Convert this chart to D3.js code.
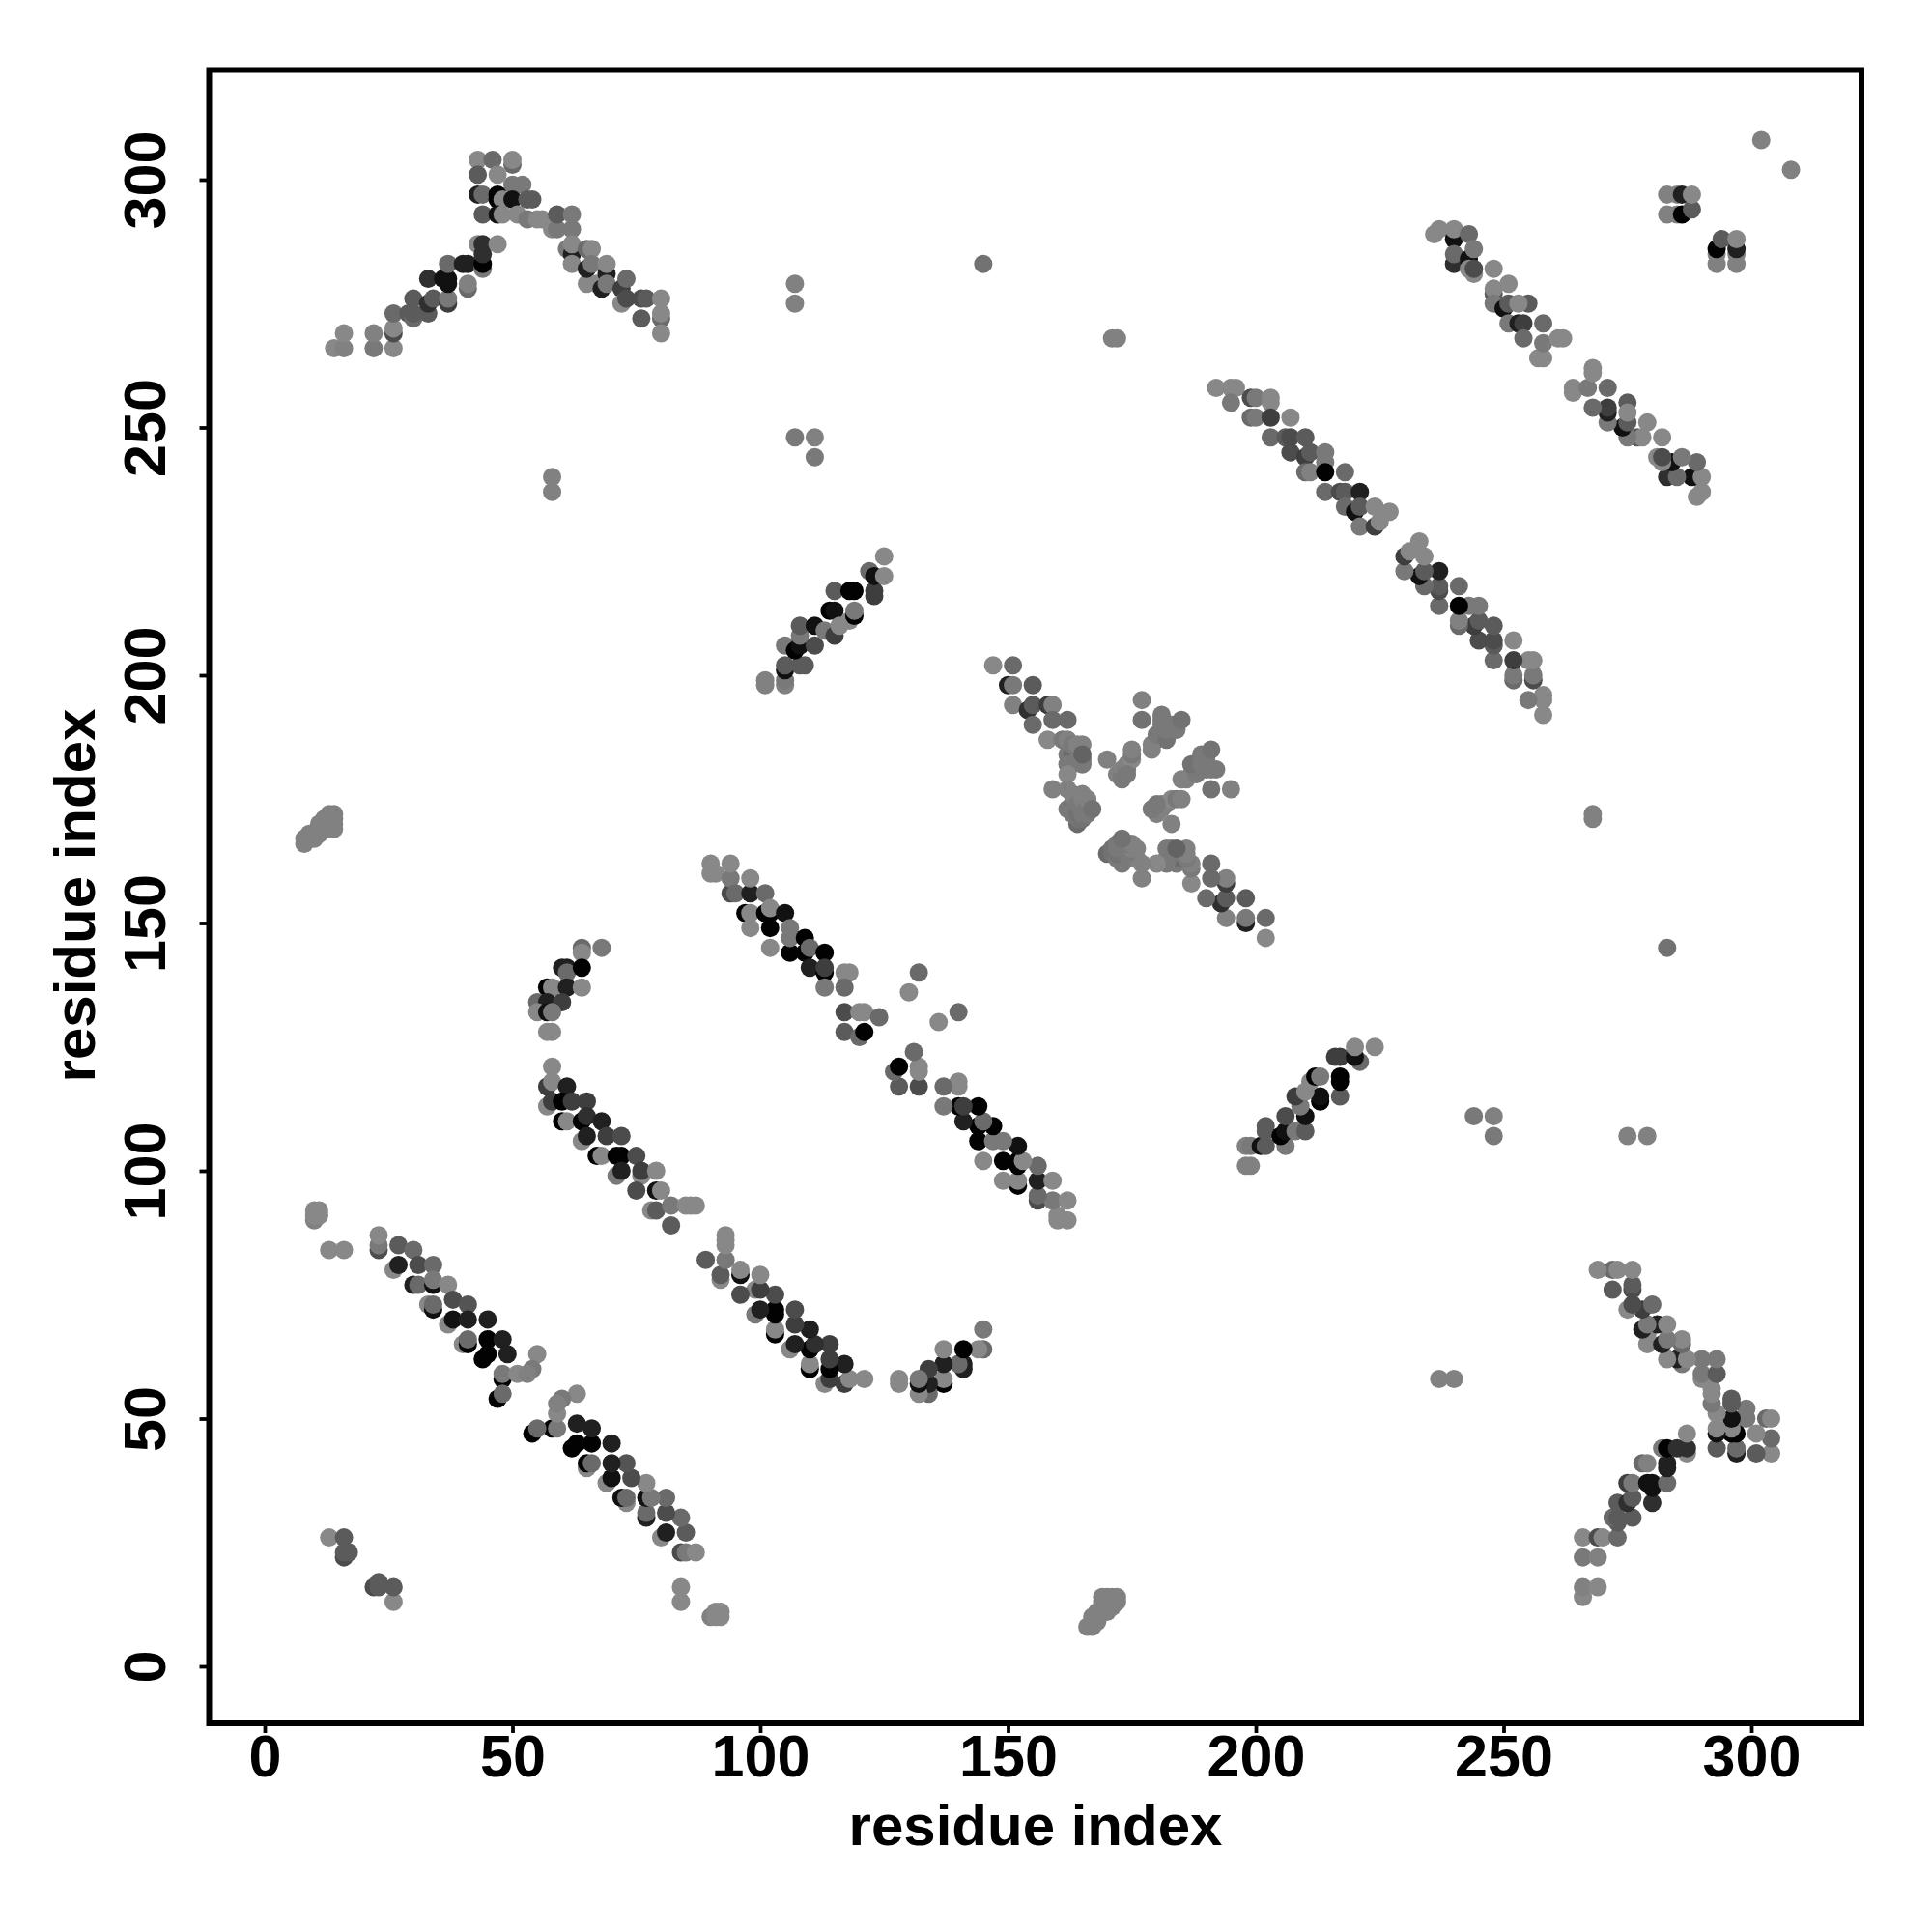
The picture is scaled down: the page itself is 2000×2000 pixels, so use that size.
<!DOCTYPE html>
<html><head><meta charset="utf-8">
<script src="https://cdn.jsdelivr.net/npm/d3@7"></script>
<style>html,body{margin:0;padding:0;background:#fff}svg{display:block}</style>
</head><body><div id="chart"></div>
<script>
// Contact map: [residue i, residue j, contact strength 0-9]; i<j, the matrix is symmetric.
const tickValues = [0, 50, 100, 150, 200, 250, 300];
const axisTitle = "residue index";

const helixA = [[23,84,4],[23,85,1],[23,87,0],[26,80,0],[27,81,7],[27,85,3],[30,84,2],[30,77,7],[31,81,4],[34,81,2],[31,77,2],[34,77,8],[34,78,1],[37,77,0],[33,73,0],[34,72,8],[34,73,2],[38,74,4],[41,73,3.5],[37,69,0],[38,70,8],[41,70,7],[45,70,7],[40,65,0],[41,65,9],[41,66,2],[45,66,9],[48,66,7],[44,62,9],[45,63,9],[49,63,7],[48,58,9],[48,59,1],[55,63,0],[54,60,1],[51,59,0],[53,59,0.5],[47,54,9],[48,55,2]];

const smallPatches = [[13,26,0],[16,26,3],[16,22,4],[16,23,3],[17,23,3],[13,84,0],[16,84,0],[10,90,0.5],[10,91,0],[10,92,0],[11,92,0],[11,91,0],[8,166,0.5],[8,167,0.5],[9,167,0.5],[9,168,0.5],[10,167,0.5],[10,168,0.5],[11,168,0.5],[11,169,0.5],[11,170,0.5],[12,169,0.5],[12,170,0.5],[13,169,0.5],[13,170,0.5],[14,169,0.5],[14,170,0.5],[12,171,0.5],[13,171,0.5],[14,171,0.5],[13,172,0.5],[14,172,0.5],[58,237,0.5],[58,240,0.5],[107,248,1],[111,248,0.5],[111,244,1],[107,275,0.5],[107,279,0.5],[145,283,1.5],[171,268,0.5],[172,268,0.5],[302,308,0.5],[130,136,0],[132,140,2]];

const turnB = [[64,145,2],[64,144,0],[68,145,1],[60,141,7],[61,141,7],[61,140,2],[64,141,9],[57,137,9],[58,137,0],[61,137,7],[64,137,0],[55,134,2],[57,134,7],[60,134,5],[55,132,0],[57,132,8],[58,132,1],[57,128,0],[58,128,0]];

const helixB = [[58,121,0],[57,117,5],[58,118,0],[61,117,7],[57,113,0],[58,114,5],[60,114,9],[62,114,5],[65,114,5],[60,110,9],[61,110,0],[64,110,9],[65,111,6],[68,110,7],[64,106,0],[65,107,7],[69,107,5],[72,107,4],[67,103,9],[68,103,0],[71,103,9],[72,103,9],[75,103,4],[71,99,1],[72,100,7],[76,99,0],[76,100,5],[79,100,0],[75,96,4],[79,96,8],[80,96,0],[78,92,0],[79,92,3],[82,93,1],[85,93,0],[87,93,0],[86,93,0],[82,89,3]];

const helixC = [[90,160,0],[91,160,0],[90,162,0],[94,156,4],[94,159,1],[94,162,0],[95,156,2],[97,152,9],[98,149,0],[98,152,0],[98,156,7],[98,159,0],[101,156,2],[101,152,9],[102,149,9],[102,152,9],[102,153,0],[102,145,0],[105,152,8],[106,144,9],[106,147,1],[106,149,1],[109,144,9],[109,147,9],[110,145,2],[113,144,9],[110,141,7],[113,140,9],[113,141,5],[117,140,0],[118,140,0],[113,137,1],[117,137,2],[117,132,4],[120,132,0],[121,132,0],[124,131,2],[117,128,3],[120,127,2],[121,128,9]];

const helixD = [[101,198,0.5],[101,199,0.5],[105,198,0.5],[105,199,1],[105,201,8],[105,202,3],[105,206,1],[108,202,3],[109,202,3],[107,205,9],[108,206,8],[111,206,4],[108,208,1],[108,210,3],[111,210,8],[113,209,1],[114,213,9],[115,213,8],[115,208,5],[116,210,0],[115,217,3],[118,217,9],[119,217,9],[118,211,0],[119,212,9],[119,213,1],[123,216,5],[123,217,5],[122,221,2],[123,220,8],[125,220,0],[125,224,0]];

const helixE = [[147,202,0],[151,202,2],[150,198,7],[151,194,0.5],[151,198,1],[155,198,3],[154,193,6],[155,194,3],[158,194,5],[159,194,0.5],[155,190,2],[159,191,2],[162,191,2],[158,187,0],[161,187,1],[162,184,1],[162,187,0.5],[163,182,1],[163,184,2],[163,186,1],[164,183,1],[164,186,0.5],[165,186,0.5],[165,182,1],[165,183,1],[165,184,2.5],[162,182,1],[162,180,0],[159,177,0.5],[162,177,0.5],[164,170,2],[164,171,1.5],[165,171,1.5],[162,173,1],[163,172,1],[163,174,1],[163,176,0.5],[164,172,1.5],[164,174,1],[165,172,1],[165,173,1],[165,175,0.5],[165,176,0.5],[166,172,1],[166,174,1],[166,175,0.5],[167,173,1.5],[170,183,0.5],[172,180,0.5],[173,180,1],[173,181,0.5],[174,181,1],[174,182,0.5],[175,183,0],[175,184,1],[175,185,0.5],[173,179,1],[174,180,1],[177,195,0.5],[177,191,1.5],[181,192,1],[179,185,0.5],[179,186,0.5],[180,187,0.5],[180,188,1],[181,189,1],[181,190,1],[181,191,1],[182,187,1.5],[182,189,1],[183,190,1],[184,189,1],[185,191,1.5]];

const helixF = [[192,258,0],[196,258,0],[195,258,0],[195,255,1],[199,256,4],[200,256,1],[203,255,0],[203,256,0],[199,252,2],[200,252,1],[203,252,5],[207,252,0],[203,248,2],[206,248,3],[207,248,4],[210,248,3],[207,245,4],[210,244,5],[211,245,3],[214,243,1],[214,245,1],[210,241,2],[211,241,0.5],[214,241,9],[218,241,2],[214,237,2],[217,237,4],[218,237,3],[221,237,7],[218,234,2],[220,233,8],[221,234,3],[221,230,1],[224,230,5],[224,234,0],[225,231,0],[227,233,0]];

const helixG = [[236,289,0],[237,290,0],[240,288,8],[240,290,0],[240,283,6],[240,285,2],[243,289,2],[243,284,8],[244,286,1],[243,282,0],[244,281,0],[244,282,4],[248,282,0],[248,277,3],[248,278,0],[251,279,0],[248,275,1],[250,274,8],[251,275,3],[255,275,3],[253,275,0],[251,271,1],[253,271,7],[254,271,5],[258,271,2],[254,268,2],[257,264,0],[258,264,0],[258,267,1],[261,268,0],[262,268,0]];

const sheetH = [[14,266,0],[16,266,0.5],[16,269,0],[22,266,1],[22,269,0.5],[26,266,0],[26,269,4],[26,270,0],[26,273,2],[29,273,3],[30,272,2],[30,273,3],[33,273,3],[30,276,3],[33,275,6],[34,276,3],[37,275,5],[37,276,1],[33,280,6],[36,280,8],[37,279,8],[37,280,8],[37,283,2],[41,278,2],[41,279,0.5],[40,283,7],[41,283,7],[44,282,1],[44,283,9],[43,287,0],[44,285,6],[44,287,6],[47,287,0],[43,304,0],[46,304,2],[50,303,2],[50,304,0],[43,301,3],[47,301,0],[50,299,1],[52,299,1],[43,297,7],[44,297,2],[47,296,9],[47,297,9],[48,296,0],[50,296,8],[53,296,3],[54,296,3],[44,293,3],[47,293,8],[48,293,0],[51,293,0],[53,292,1],[55,292,0],[56,292,0],[58,290,0],[59,290,1],[59,293,3],[62,293,1],[62,290,1],[61,286,1],[62,285,7],[62,287,0],[62,283,0],[65,286,2],[66,286,0],[65,279,0],[65,282,7],[66,283,1],[67,279,0],[69,281,7],[69,283,0],[68,278,7],[69,279,1],[72,278,5],[73,280,2],[72,275,0],[73,276,4],[76,276,4],[77,276,3],[76,272,3],[80,272,2],[80,273,0],[80,276,0],[80,269,0]];

const patchI = [[283,293,0.5],[283,297,0.5],[285,293,0.5],[285,297,0.5],[286,293,9],[286,297,7],[288,294,3],[288,297,0]];

const contactGroups = [helixA, smallPatches, turnB, helixB, helixC, helixD, helixE, helixF, helixG, sheetH, patchI];

const svg = d3.select("#chart").append("svg").attr("width", 2000).attr("height", 2000);
const x = d3.scaleLinear().domain([0, 300]).range([274, 1813]);
const y = d3.scaleLinear().domain([0, 300]).range([1725, 186]);
const shade = d3.scaleLinear().domain([0, 9]).range(["#888888", "#020202"]);
const font = "'Liberation Sans', Arial, sans-serif";
const box = {l: 216.5, r: 1927, t: 72.5, b: 1784};

const points = contactGroups.flatMap(g => [...g, ...g.map(([i, j, s]) => [j, i, s])]);
svg.append("g").selectAll("circle").data(points).join("circle")
  .attr("cx", d => x(d[0])).attr("cy", d => y(d[1])).attr("r", 9.5)
  .attr("fill", d => shade(d[2]));

svg.append("rect").attr("x", box.l).attr("y", box.t)
  .attr("width", box.r - box.l).attr("height", box.b - box.t)
  .attr("fill", "none").attr("stroke", "#000").attr("stroke-width", 6);

const gx = svg.append("g").attr("transform", `translate(0,${box.b})`)
  .call(d3.axisBottom(x).tickValues(tickValues).tickSize(10).tickPadding(4).tickFormat(d3.format("d")));
const gy = svg.append("g").attr("transform", `translate(${box.l},0)`)
  .call(d3.axisLeft(y).tickValues(tickValues).tickSize(10).tickFormat(d3.format("d")));
[gx, gy].forEach(g => {
  g.select(".domain").remove();
  g.selectAll("line").attr("stroke", "#000").attr("stroke-width", 3.8);
  g.selectAll("text").attr("fill", "#000").attr("font-family", font)
    .attr("font-weight", "bold").attr("font-size", 61);
});
gx.selectAll("text").attr("dy", null).attr("y", 55).attr("text-anchor", "middle");
gy.selectAll("text").attr("x", null).attr("dy", null)
  .attr("text-anchor", "middle")
  .attr("transform", "translate(-46,0) rotate(-90)");

const title = (sel) => sel.attr("font-family", font).attr("font-weight", "bold")
  .attr("font-size", 60).attr("text-anchor", "middle").attr("fill", "#000").text(axisTitle);
svg.append("text").attr("x", 1072).attr("y", 1910).call(title);
svg.append("text").attr("transform", "translate(98,927) rotate(-90)").call(title);
</script></body></html>
